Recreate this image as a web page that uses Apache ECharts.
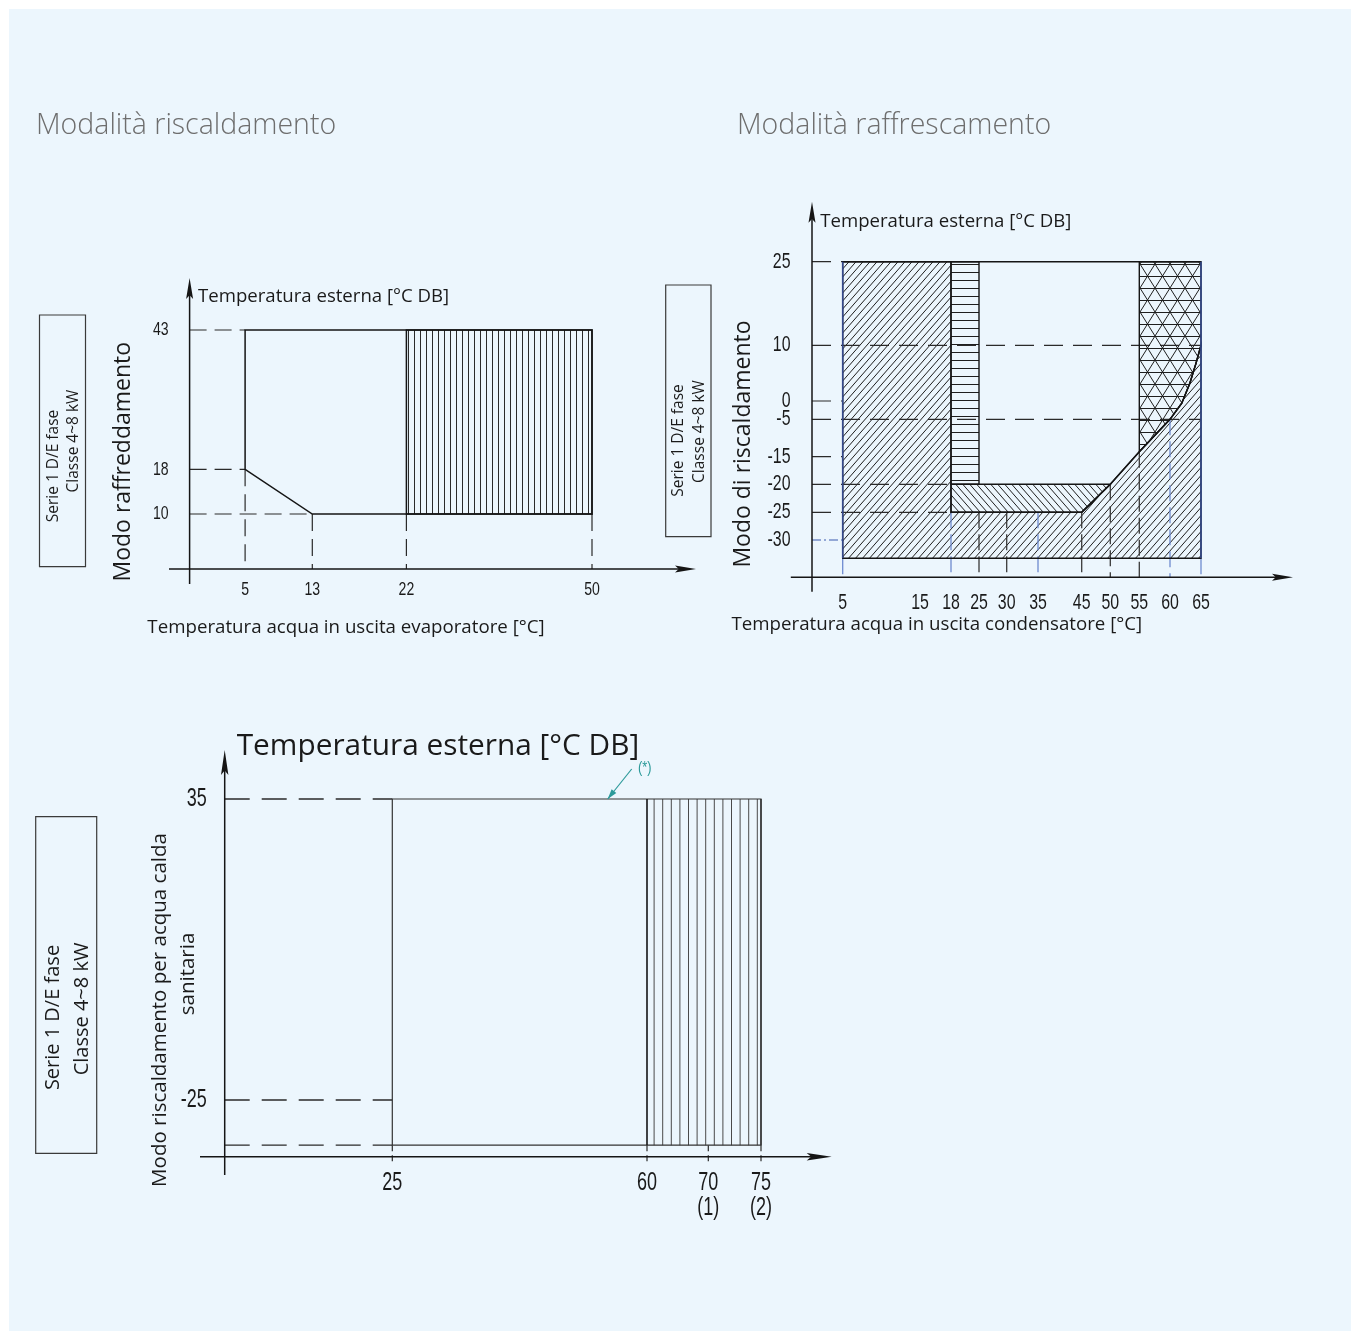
<!DOCTYPE html>
<html>
<head>
<meta charset="utf-8">
<script src="https://cdn.jsdelivr.net/npm/echarts@6/dist/echarts.min.js"></script>
<style>
html,body{margin:0;padding:0;background:#ffffff;}
#chart{width:1360px;height:1331px;}
</style>
</head>
<body>
<div id="chart"></div>
<script>
// ======================= DATA =======================
// Chart 1 – "Modo raffreddamento" envelope
const c1XTicks = [5, 13, 22, 50];
const c1YTicks = [10, 18, 43];
const c1Envelope = [[5, 43], [50, 43], [50, 10], [13, 10], [5, 18]];
const c1Hatched = [[22, 43], [50, 43], [50, 10], [22, 10]];

// Chart 2 – "Modo di riscaldamento" envelope
const c2XTicks = [5, 15, 18, 25, 30, 35, 45, 50, 55, 60, 65];
const c2YTicks = [25, 10, 0, -5, -15, -20, -25, -30];
const c2Bottom = -33.3;
const c2Boundary = [[45, -25], [50, -20], [55, -13.7], [60, -5], [61.9, -0.6], [63.2, 3.2], [64.2, 6.8], [65, 10]];
const c2YGuideTo = [5, 65, 5, 65, 5, 18, 18, 5];               // x where each horizontal guide stops
const c2XGuideFrom = [c2Bottom, null, -25, -25, -25, -25, -25, -20, -13.7, -5, c2Bottom]; // y where each vertical guide starts

// Chart 3 – "Modo riscaldamento per acqua calda sanitaria" envelope
const c3XTicks = [25, 60, 70, 75];
const c3XNotes = ['', '', '(1)', '(2)'];
const c3YTicks = [35, -25];
const c3Bottom = -34;
const c3Envelope = [[25, 35], [75, 35], [75, c3Bottom], [25, c3Bottom]];
const c3Hatched = [[60, 35], [75, 35], [75, c3Bottom], [60, c3Bottom]];
const c3Note = [54.6, 35];

// ======================= LAYOUT / SCALES =======================
// piecewise-linear (non-uniform) axis scales of the technical drawing: [value, page px]
const L1 = {ox: 189.6, oy: 569, xTip: 696, yTip: 278, xTail: 169, yTail: 584, aLen: 21, aHalf: 3.5,
  xKnots: [[5, 245.1], [13, 312.3], [22, 406.4], [50, 592]],
  yKnots: [[10, 514], [18, 469.3], [43, 330]],
  lab: {size: 19, sx: 0.74, yGap: 21, xDy: 21}};
const L2 = {ox: 812, oy: 577.3, xTip: 1293, yTip: 201.7, xTail: 790.8, yTail: 591.7, aLen: 21, aHalf: 3.5,
  xKnots: [[5, 842.7], [15, 920], [18, 951], [25, 979], [30, 1006.7], [35, 1038], [45, 1081.7], [50, 1110.3], [55, 1139.3], [60, 1170], [65, 1201]],
  yKnots: [[25, 261.7], [10, 345.3], [0, 401], [-5, 419.3], [-15, 456.7], [-20, 484.3], [-25, 512.3], [-30, 540]],
  lab: {size: 21.5, sx: 0.74, yGap: 21.5, xDy: 25.7}};
const L3 = {ox: 224.7, oy: 1156.7, xTip: 831.7, yTip: 750, xTail: 200, yTail: 1175, aLen: 25, aHalf: 3.7,
  xKnots: [[25, 392.3], [60, 647], [70, 708.3], [75, 761]],
  yKnots: [[35, 799], [-25, 1100]],
  lab: {size: 25, sx: 0.72, yGap: 18, xDy: 26.6, noteDy: 51.3}};

function mkScale(knots) {
  const k = knots.slice().sort((a, b) => a[0] - b[0]);
  return v => {
    let i = 0;
    if (v >= k[k.length - 1][0]) i = k.length - 2;
    else if (v > k[0][0]) { while (i < k.length - 2 && v > k[i + 1][0]) i++; }
    const [v0, p0] = k[i], [v1, p1] = k[i + 1];
    return p0 + (v - v0) * (p1 - p0) / (v1 - v0);
  };
}
[L1, L2, L3].forEach(L => { L.sx = mkScale(L.xKnots); L.sy = mkScale(L.yKnots); });

// ======================= STYLES =======================
const FONT_TICK = "'Liberation Sans',Arial,sans-serif";
const FONT_TXT = "'Open Sans','Noto Sans',sans-serif";
const INK = '#151515';
const DASH_COL = '#2a2a2a';
const BLUE = '#6f8bd0';
const NAVY = '#34498c';
const TEAL = '#2c9a9a';
const blueGuides = new Set([5, 18, 35, 60, 65]);

function mkPattern(w, h, draw, col) {
  const c = document.createElement('canvas');
  c.width = w; c.height = h;
  const ctx = c.getContext('2d');
  ctx.strokeStyle = col || '#1e1e1e';
  ctx.lineWidth = 1;
  ctx.beginPath();
  draw(ctx, w, h);
  ctx.stroke();
  return {image: c, repeat: 'repeat'};
}
const patV6 = mkPattern(6, 8, (c, w, h) => { c.moveTo(0.5, 0); c.lineTo(0.5, h); }, '#2a2a2a');
const patV86 = mkPattern(43, 8, (c, w, h) => { for (let i = 0; i < 5; i++) { const x = i * 8.6 + 0.5; c.moveTo(x, 0); c.lineTo(x, h); } }, '#4a4a4a');
const patDiag = mkPattern(7, 8, (c, w, h) => { for (const o of [-w, 0, w]) { c.moveTo(o, h); c.lineTo(o + w, 0); } });
const patBack = mkPattern(7, 8, (c, w, h) => { for (const o of [-w, 0, w]) { c.moveTo(o, 0); c.lineTo(o + w, h); } });
const patHoriz = mkPattern(8, 8, (c, w, h) => { c.moveTo(0, 0.5); c.lineTo(w, 0.5); });
const patTri = mkPattern(15, 24, (c, w, h) => {
  c.moveTo(0, 0.5); c.lineTo(w, 0.5); c.moveTo(0, 12.5); c.lineTo(w, 12.5);
  for (const o of [-w, 0, w]) { c.moveTo(o, h); c.lineTo(o + w, 0); c.moveTo(o, 0); c.lineTo(o + w, h); }
});

// ======================= HELPERS =======================
function seg(a, b, style) { return {type: 'line', silent: true, shape: {x1: a[0], y1: a[1], x2: b[0], y2: b[1]}, style: style}; }
function poly(pts, style) { return {type: 'polygon', silent: true, shape: {points: pts}, style: style}; }
function pline(pts, style) { return {type: 'polyline', silent: true, shape: {points: pts}, style: style}; }
function label(p, text, size, sx, align, col, font) {
  return {type: 'text', silent: true, x: p[0], y: p[1], scaleX: sx, scaleY: 1,
    style: {text: text, font: size + 'px ' + (font || FONT_TICK), fill: col || '#1a1a1a', align: align, verticalAlign: 'middle'}};
}

function ctxFor(api, L) {
  return {
    P: (x, y) => api.coord([L.sx(x), -L.sy(y)]),
    A: (px, py) => api.coord([px, -py])
  };
}
function axesEls(L, A) {
  const st = {stroke: INK, lineWidth: 1.5, fill: 'none'};
  const f = {fill: INK};
  return [
    seg(A(L.ox, L.yTail), A(L.ox, L.yTip + L.aLen * 0.8), st),
    poly([A(L.ox, L.yTip), A(L.ox - L.aHalf, L.yTip + L.aLen), A(L.ox, L.yTip + L.aLen * 0.82), A(L.ox + L.aHalf, L.yTip + L.aLen)], f),
    seg(A(L.xTail, L.oy), A(L.xTip - L.aLen * 0.8, L.oy), st),
    poly([A(L.xTip, L.oy), A(L.xTip - L.aLen, L.oy - L.aHalf), A(L.xTip - L.aLen * 0.82, L.oy), A(L.xTip - L.aLen, L.oy + L.aHalf)], f)
  ];
}
function tickLabels(L, A, xTicks, yTicks, xNotes) {
  const els = [];
  const s = L.lab;
  yTicks.forEach(v => els.push(label(A(L.ox - s.yGap, L.sy(v)), String(v), s.size, s.sx, 'right')));
  xTicks.forEach((v, i) => {
    els.push(label(A(L.sx(v), L.oy + s.xDy), String(v), s.size, s.sx, 'center'));
    if (xNotes && xNotes[i]) els.push(label(A(L.sx(v), L.oy + s.noteDy), xNotes[i], s.size, s.sx, 'center'));
  });
  return els;
}

// ---------- chart 1 ----------
function render1(params, api) {
  const L = L1, {P, A} = ctxFor(api, L);
  const els = [];
  els.push(poly(c1Hatched.map(p => P(p[0], p[1])), {fill: patV6}));
  const dash = {stroke: DASH_COL, lineWidth: 1.2, lineDash: [17, 8], fill: 'none'};
  c1YTicks.forEach(y => {
    const xEnd = Math.min(...c1Envelope.filter(p => p[1] === y).map(p => p[0]));
    els.push(seg(A(L.ox, L.sy(y)), P(xEnd, y), dash));
  });
  const allPts = c1Envelope.concat(c1Hatched);
  c1XTicks.forEach(x => {
    const yStart = Math.min(...allPts.filter(p => p[0] === x).map(p => p[1]));
    els.push(seg(P(x, yStart), A(L.sx(x), L.oy), dash));
  });
  els.push(poly(c1Envelope.map(p => P(p[0], p[1])), {fill: 'none', stroke: INK, lineWidth: 1.5}));
  els.push(poly(c1Hatched.map(p => P(p[0], p[1])), {fill: 'none', stroke: INK, lineWidth: 1.5}));
  els.push(...axesEls(L, A));
  els.push(...tickLabels(L, A, c1XTicks, c1YTicks));
  return {type: 'group', children: els};
}

// ---------- chart 2 ----------
function render2(params, api) {
  const L = L2, {P, A} = ctxFor(api, L);
  const xMin = c2XTicks[0], xMax = c2XTicks[c2XTicks.length - 1], yTop = c2YTicks[0];
  const zoneDiag = [[xMin, yTop], [18, yTop], [18, -25]].concat(c2Boundary, [[xMax, c2Bottom], [xMin, c2Bottom]]);
  const zoneHoriz = [[18, yTop], [25, yTop], [25, -20], [18, -20]];
  const zoneBack = [[18, -20], [50, -20], [45, -25], [18, -25]];
  const zoneTri = [[55, yTop], [xMax, yTop]].concat(c2Boundary.filter(p => p[0] >= 55).reverse());
  const toPts = z => z.map(p => P(p[0], p[1]));
  const els = [];
  els.push(poly(toPts(zoneDiag), {fill: patDiag}));
  els.push(poly(toPts(zoneHoriz), {fill: patHoriz}));
  els.push(poly(toPts(zoneBack), {fill: patBack}));
  els.push(poly(toPts(zoneTri), {fill: patTri}));
  c2YTicks.forEach((y, i) => {
    const st = y === -30
      ? {stroke: '#3a5bb0', lineWidth: 1.2, lineDash: [9, 3, 2, 3], fill: 'none'}
      : {stroke: DASH_COL, lineWidth: 1.2, lineDash: [19, 10], fill: 'none'};
    els.push(seg(A(L.ox, L.sy(y)), P(c2YGuideTo[i], y), st));
  });
  c2XTicks.forEach((x, i) => {
    const from = c2XGuideFrom[i];
    if (from === null) return;
    const st = {stroke: blueGuides.has(x) ? BLUE : '#3a3a3a', lineWidth: 1.3, lineDash: [16, 6], fill: 'none'};
    els.push(seg(P(x, from), A(L.sx(x), L.oy), st));
  });
  const ol = {fill: 'none', stroke: INK, lineWidth: 1.4};
  [zoneDiag, zoneHoriz, zoneBack, zoneTri].forEach(z => els.push(poly(toPts(z), ol)));
  els.push(seg(P(xMin, yTop), P(xMax, yTop), ol));
  els.push(pline(toPts(c2Boundary), ol));
  els.push(seg(P(xMin, c2Bottom), P(xMin, yTop), {stroke: NAVY, lineWidth: 1.6}));
  els.push(seg(P(xMax, c2Bottom), P(xMax, yTop), {stroke: NAVY, lineWidth: 1.6}));
  els.push(...axesEls(L, A));
  els.push(...tickLabels(L, A, c2XTicks, c2YTicks));
  return {type: 'group', children: els};
}

// ---------- chart 3 ----------
function render3(params, api) {
  const L = L3, {P, A} = ctxFor(api, L);
  const els = [];
  els.push(poly(c3Hatched.map(p => P(p[0], p[1])), {fill: patV86}));
  const dash = {stroke: DASH_COL, lineWidth: 1.3, lineDash: [25, 12], fill: 'none'};
  c3YTicks.concat([c3Bottom]).forEach(y => els.push(seg(A(L.ox, L.sy(y)), P(c3Envelope[0][0], y), dash)));
  const tickDash = {stroke: DASH_COL, lineWidth: 1.2, lineDash: [6, 4], fill: 'none'};
  c3XTicks.forEach(x => els.push(seg(P(x, c3Bottom), A(L.sx(x), L.oy + 5), tickDash)));
  els.push(poly(c3Envelope.map(p => P(p[0], p[1])), {fill: 'none', stroke: '#333', lineWidth: 1.2}));
  els.push(seg(P(60, 35), P(60, c3Bottom), {stroke: INK, lineWidth: 1.6}));
  els.push(seg(P(75, 35), P(75, c3Bottom), {stroke: '#333', lineWidth: 1.4}));
  const tip = P(c3Note[0], c3Note[1]);
  const tail = [tip[0] + 24, tip[1] - 30];
  const ang = Math.atan2(tip[1] - tail[1], tip[0] - tail[0]);
  const back = (d, s) => [tip[0] - d * Math.cos(ang) + s * Math.sin(ang), tip[1] - d * Math.sin(ang) - s * Math.cos(ang)];
  els.push(seg(tail, tip, {stroke: TEAL, lineWidth: 1.2}));
  els.push(poly([tip, back(10, 3), back(10, -3)], {fill: TEAL}));
  els.push(label([tip[0] + 37, tip[1] - 31], '(*)', 17, 0.75, 'center', TEAL));
  els.push(...axesEls(L, A));
  els.push(...tickLabels(L, A, c3XTicks, c3YTicks, c3XNotes));
  return {type: 'group', children: els};
}

// ======================= AXES =======================
function axisPair(gi, L) {
  const common = {type: 'value', gridIndex: gi, axisLine: {show: false}, axisTick: {show: false},
    splitLine: {show: false}, axisLabel: {show: false}};
  return {
    x: Object.assign({}, common, {min: L.ox, max: L.xTip}),
    y: Object.assign({}, common, {min: -L.oy, max: -L.yTip})
  };
}
const ax1 = axisPair(0, L1), ax2 = axisPair(1, L2), ax3 = axisPair(2, L3);
function gridOf(L) { return {left: L.ox, top: L.yTip, width: L.xTip - L.ox, height: L.oy - L.yTip}; }

// ======================= TEXTS =======================
function txt(x, y, text, font, fill, align, rot) {
  return {type: 'text', x: x, y: y, rotation: rot || 0, silent: true, z: 50,
    style: {text: text, font: font, fill: fill || '#1a1a1a', align: align || 'left', verticalAlign: 'middle',
      textAlign: align || 'left', textVerticalAlign: 'middle'}};
}
const R = Math.PI / 2;
const graphics = [
  {type: 'rect', silent: true, z: -100, shape: {x: 9, y: 9, width: 1342, height: 1322}, style: {fill: '#ecf6fd'}},
  txt(36, 126, 'Modalità riscaldamento', '300 28.5px ' + FONT_TXT, '#6e6e6e'),
  txt(737, 126, 'Modalità raffrescamento', '300 28.5px ' + FONT_TXT, '#6e6e6e'),
  {type: 'rect', silent: true, z: 40, shape: {x: 39.5, y: 315, width: 46, height: 251.7}, style: {fill: 'none', stroke: '#3a3a3a', lineWidth: 1.2}},
  txt(53.8, 466, 'Serie 1 D/E fase', '15.5px ' + FONT_TXT, '#1a1a1a', 'center', R),
  txt(73.4, 441, 'Classe 4~8 kW', '15.5px ' + FONT_TXT, '#1a1a1a', 'center', R),
  {type: 'rect', silent: true, z: 40, shape: {x: 665.7, y: 285, width: 45.3, height: 251.7}, style: {fill: 'none', stroke: '#3a3a3a', lineWidth: 1.2}},
  txt(679, 440.5, 'Serie 1 D/E fase', '15.5px ' + FONT_TXT, '#1a1a1a', 'center', R),
  txt(700, 431.5, 'Classe 4~8 kW', '15.5px ' + FONT_TXT, '#1a1a1a', 'center', R),
  {type: 'rect', silent: true, z: 40, shape: {x: 35.7, y: 816.7, width: 61, height: 336.6}, style: {fill: 'none', stroke: '#3a3a3a', lineWidth: 1.2}},
  txt(53.3, 1017.5, 'Serie 1 D/E fase', '20px ' + FONT_TXT, '#1a1a1a', 'center', R),
  txt(82.7, 1009, 'Classe 4~8 kW', '20px ' + FONT_TXT, '#1a1a1a', 'center', R),
  txt(198, 296.7, 'Temperatura esterna [°C DB]', '18.6px ' + FONT_TXT),
  txt(346, 628, 'Temperatura acqua in uscita evaporatore [°C]', '18.7px ' + FONT_TXT, '#1a1a1a', 'center'),
  txt(123, 461.7, 'Modo raffreddamento', '23px ' + FONT_TXT, '#1a1a1a', 'center', R),
  txt(820.3, 221.7, 'Temperatura esterna [°C DB]', '18.6px ' + FONT_TXT),
  txt(731.5, 625, 'Temperatura acqua in uscita condensatore [°C]', '18.7px ' + FONT_TXT),
  txt(743, 444, 'Modo di riscaldamento', '23px ' + FONT_TXT, '#1a1a1a', 'center', R),
  txt(236.7, 747, 'Temperatura esterna [°C DB]', '29.8px ' + FONT_TXT),
  txt(160, 1010, 'Modo riscaldamento per acqua calda', '20.5px ' + FONT_TXT, '#1a1a1a', 'center', R),
  txt(188.3, 974, 'sanitaria', '20.5px ' + FONT_TXT, '#1a1a1a', 'center', R)
];

// ======================= OPTION =======================
const chart = echarts.init(document.getElementById('chart'), null, {renderer: 'canvas'});
chart.setOption({
  animation: false,
  backgroundColor: '#ffffff',
  grid: [gridOf(L1), gridOf(L2), gridOf(L3)],
  xAxis: [ax1.x, ax2.x, ax3.x],
  yAxis: [ax1.y, ax2.y, ax3.y],
  graphic: graphics,
  series: [
    {type: 'custom', name: 'Modo raffreddamento', xAxisIndex: 0, yAxisIndex: 0, clip: false, silent: true, data: [[L1.ox, -L1.oy]], renderItem: render1},
    {type: 'custom', name: 'Modo di riscaldamento', xAxisIndex: 1, yAxisIndex: 1, clip: false, silent: true, data: [[L2.ox, -L2.oy]], renderItem: render2},
    {type: 'custom', name: 'Acqua calda sanitaria', xAxisIndex: 2, yAxisIndex: 2, clip: false, silent: true, data: [[L3.ox, -L3.oy]], renderItem: render3}
  ]
});
</script>
</body>
</html>
